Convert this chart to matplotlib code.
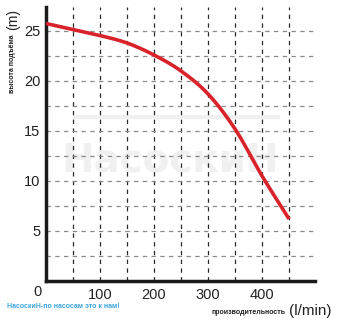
import matplotlib.pyplot as plt
import numpy as np

plt.rcParams['font.family'] = ['Liberation Sans', 'DejaVu Sans']

# flow (l/min) vs head (m)
flow = [0, 50, 100, 150, 200, 250, 300, 350, 400, 450]
head = [25.75, 25.15, 24.55, 23.8, 22.6, 21.0, 18.7, 15.2, 10.5, 6.2]

x_ticks = [0, 100, 200, 300, 400]
y_ticks = [5, 10, 15, 20, 25]
x_grid = [50, 100, 150, 200, 250, 300, 350, 400, 450]
y_grid = [2.5, 5, 7.5, 10, 12.5, 15, 17.5, 20, 22.5, 25]


def smooth(x, y, n=20):
    # catmull-rom through the read points, just for drawing
    x = np.asarray(x, float)
    y = np.asarray(y, float)
    px = np.concatenate([[2 * x[0] - x[1]], x, [2 * x[-1] - x[-2]]])
    py = np.concatenate([[2 * y[0] - y[1]], y, [2 * y[-1] - y[-2]]])
    t = np.linspace(0, 1, n, endpoint=False)
    ox, oy = [], []
    for i in range(1, len(px) - 2):
        for p, o in ((px, ox), (py, oy)):
            p0, p1, p2, p3 = p[i - 1:i + 3]
            o.extend(0.5 * (2 * p1 + (-p0 + p2) * t
                            + (2 * p0 - 5 * p1 + 4 * p2 - p3) * t ** 2
                            + (-p0 + 3 * p1 - 3 * p2 + p3) * t ** 3))
    ox.append(x[-1])
    oy.append(y[-1])
    return ox, oy


W, H = 341, 325
fig = plt.figure(figsize=(W / 100, H / 100), dpi=100)
ax = fig.add_axes([46 / W, (H - 281) / H, (315 - 46) / W, (281 - 7) / H])
ax.set_xlim(0, 498)
ax.set_ylim(0, 27.4)

# faint watermark behind the grid
ax.text(170 / W, 1 - 160 / H, "НасоскиН", fontsize=28, fontweight="bold",
        family="DejaVu Sans", color="#f0f0f0", ha="center", va="center",
        transform=fig.transFigure, zorder=0.5)
ax.plot([75 / W, 278 / W], [1 - 117 / H] * 2, color="#f0f0f0", lw=3,
        transform=fig.transFigure, clip_on=False, zorder=0.5)

for gx in x_grid:
    ax.axvline(gx, color="#2a2a2a", lw=0.9, ls=(0, (3.5, 3.5)), zorder=1)
for gy in y_grid:
    ax.axhline(gy, color="#8a8a8a", lw=0.9, ls=(0, (3.5, 3.5)), zorder=1)

sx, sy = smooth(flow, head)
ax.plot(sx, sy, color="#d8232a", lw=2.6, solid_capstyle="butt", zorder=3)

for s in ["top", "right"]:
    ax.spines[s].set_visible(False)
ax.spines["left"].set_linewidth(2.5)
ax.spines["bottom"].set_linewidth(2.5)
ax.spines["left"].set_color("#1a1a1a")
ax.spines["bottom"].set_color("#1a1a1a")

ax.set_xticks(x_ticks[1:])
ax.set_xticklabels([str(v) for v in x_ticks[1:]])
ax.set_yticks(y_ticks)
ax.set_yticklabels([str(v) for v in y_ticks])
ax.tick_params(length=0, labelsize=10.5, colors="#222222")
ax.tick_params(axis="x", pad=5)
ax.tick_params(axis="y", pad=4)
fig.text(38 / W, 1 - 292 / H, "0", fontsize=10.5, color="#222222",
         ha="center", va="center")

# axis titles
fig.text(12 / W, 1 - 64 / H, "высота подъёма", rotation=90, fontsize=5,
         fontweight="bold", color="#222222", ha="center", va="center")
fig.text(13 / W, 1 - 19 / H, "(m)", rotation=90, fontsize=10,
         color="#222222", ha="center", va="center")
fig.text(285 / W, 1 - 313 / H, "производительность", fontsize=5,
         fontweight="bold", color="#222222", ha="right", va="center")
fig.text(289 / W, 1 - 311 / H, "(l/min)", fontsize=11,
         color="#222222", ha="left", va="center")
fig.text(7 / W, 1 - 307 / H, "НасоскиН-по насосам это к нам!", fontsize=5,
         fontweight="bold", color="#3ba3dc", ha="left", va="center")

fig.savefig("out.png", dpi=100)
